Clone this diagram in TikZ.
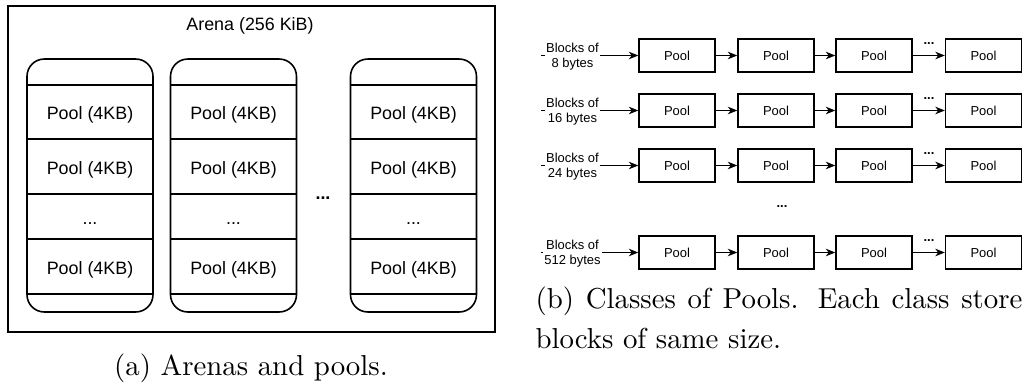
\documentclass[tikz,border=0pt]{standalone}
\usepackage{fontspec}
\newfontfamily\arialf{Liberation Sans}
\usetikzlibrary{arrows.meta}
\begin{document}
\begin{tikzpicture}[x=0.3467pt,y=-0.3467pt,
  arena/.style={draw, line width=0.55pt, inner sep=0pt},
  colbox/.style={draw, line width=0.55pt, rounded corners=6pt, minimum width=43.68pt, minimum height=87.7pt, inner sep=0pt},
  cell/.style={draw, line width=0.55pt, minimum width=43.68pt, inner sep=0pt,
    font=\arialf\fontsize{6.2}{7}\selectfont, text height=5.6pt, text depth=0.4pt},
  bigtxt/.style={inner sep=0pt, font=\arialf\fontsize{6.2}{7}\selectfont},
  pool/.style={draw, line width=0.45pt, minimum width=26.35pt, minimum height=11.44pt, inner sep=0pt,
    font=\arialf\fontsize{4.5}{5.2}\selectfont, text height=4pt, text depth=0.3pt},
  lab/.style={fill=white, inner sep=0.3pt, align=center, font=\arialf\fontsize{4.5}{5.2}\selectfont},
  dots/.style={inner sep=0pt, font=\arialf\bfseries\fontsize{4.5}{5}\selectfont},
  arr/.style={-{Stealth[length=3.3pt, width=2.6pt, inset=1pt]}, line width=0.45pt},
  captxt/.style={inner sep=0pt, font=\fontsize{10}{13.9}\selectfont}
]
\useasboundingbox (0,0) rectangle (1026,385);
% ---------- (a) arenas and pools ----------
\node[arena, minimum width=168.84pt, minimum height=113.03pt] (arena) at (251.5,169) {};
\node[bigtxt] (arenalbl) at (250,26) {Arena (256 KiB)};
\foreach \cx/\n in {90/1, 233.5/2, 413.5/3} {
  \node[colbox] (col\n) at (\cx,185.5) {};
  \node[cell, minimum height=18.72pt] (p\n a) at (\cx,112) {Pool (4KB)};
  \node[cell, minimum height=19.07pt] (p\n b) at (\cx,166.5) {Pool (4KB)};
  \node[cell, minimum height=15.6pt] (p\n c) at (\cx,216.5) {...};
  \node[cell, minimum height=19.07pt] (p\n d) at (\cx,266.5) {Pool (4KB)};
}
\node[bigtxt, font=\arialf\bfseries\fontsize{6.2}{7}\selectfont] (coldots) at (323,198) {...};
\node[captxt, anchor=base] (capa) at (251,375) {(a) Arenas and pools.};
% ---------- (b) classes of pools ----------
\foreach \ry/\n/\txt/\lw in {55.5/1/8 bytes/0.65pt, 110.5/2/16 bytes/0.45pt, 165.5/3/24 bytes/0.65pt, 252.5/4/512 bytes/0.65pt} {
  \foreach \bx/\m in {677/1, 776/2, 874/3, 983.5/4}
    \node[pool] (b\n-\m) at (\bx,\ry) {Pool};
  \coordinate (s\n) at (541,\ry);
  \draw[arr] (s\n) -- (b\n-1);
  \node[lab] (l\n) at (572.5,\ry+1) {Blocks of\\\txt};
  \draw[arr, line width=\lw] (b\n-1) -- (b\n-2);
  \draw[arr, line width=\lw] (b\n-2) -- (b\n-3);
  \draw[arr] (b\n-3) -- (b\n-4);
  \node[dots] (d\n) at (929,\ry-11.5) {...};
}
\node[dots] (rowdots) at (782,207) {...};
\node[captxt, anchor=base west] (capb) at (535,308) {\parbox[t]{168.8pt}{\fontsize{10}{13.9}\selectfont (b) Classes of Pools. Each class store\linebreak blocks of same size.}};
\end{tikzpicture}
\end{document}
